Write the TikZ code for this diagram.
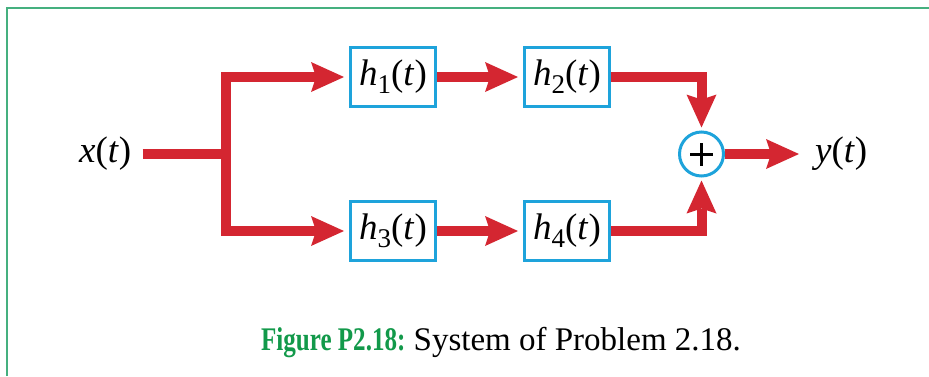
\documentclass[tikz,border=0pt]{standalone}
\usepackage{fontspec}
\setmainfont{Liberation Serif}
\usetikzlibrary{arrows.meta,positioning,calc}
\definecolor{sigred}{HTML}{D42631}
\definecolor{blkblue}{HTML}{1EA3DB}
\definecolor{framegreen}{HTML}{45B07F}
\definecolor{capgreen}{HTML}{12994A}
\newcommand{\sig}[1]{\textit{#1}(\textit{t})}
\newcommand{\imp}[1]{\textit{h}\raisebox{-0.2em}{\fontsize{27}{30}\selectfont #1}(\textit{t})}

\begin{document}
\begin{tikzpicture}[x=1pt, y=-1pt, node distance=92pt and 86pt,
  blk/.style={draw=blkblue, line width=3pt, minimum width=85pt, minimum height=59pt, inner sep=0pt, font=\fontsize{37}{40}\selectfont},
  sumnd/.style={draw=blkblue, circle, line width=3pt, minimum size=44pt, inner sep=0pt,
    path picture={\draw[black, line width=3pt] (path picture bounding box.center) +(-11.5pt,0) -- +(11.5pt,0)
      (path picture bounding box.center) +(0,-11.5pt) -- +(0,11.5pt);}},
  lbl/.style={font=\fontsize{37}{40}\selectfont, inner sep=0pt},
  wire/.style={draw=sigred, line width=10pt},
  arr/.style={wire, -{Stealth[length=33pt, width=30pt, inset=5pt, line width=0pt]}, shorten >=5pt}]
  \useasboundingbox (0,0) rectangle (929,376);
  \draw[framegreen, line width=2pt] (7,376) |- (929,8);
  % blocks
  \node[blk] (h1) at (393,77) {\imp{1}};
  \node[blk, right=of h1] (h2) {\imp{2}};
  \node[blk, below=of h1] (h3) {\imp{3}};
  \node[blk, right=of h3] (h4) {\imp{4}};
  \coordinate (mid) at ($(h2.east)!.5!(h4.east)$);
  \node[sumnd, right=67pt of mid] (sum) {};
  \coordinate (split) at ($(h1.west)!.5!(h3.west)+(-123.5,0)$);
  \node[lbl, left=94pt of split] (xin) {\sig{x}};
  \node[lbl, right=90pt of sum] (yout) {\sig{y}};
  % connectors
  \draw[wire, shorten <=11pt] (xin) -- (split);
  \draw[arr] (split) |- (h1);
  \draw[arr] (split) |- (h3);
  \draw[arr] (h1) -- (h2);
  \draw[arr] (h3) -- (h4);
  \draw[arr, shorten >=3pt] (h2) -| (sum);
  \draw[arr, shorten >=3pt] (h4) -| (sum);
  \draw[arr, shorten >=16pt] (sum) -- (yout);
  \node[font=\fontsize{33}{36}\selectfont] (cap) at (501,343)
    {{\color{capgreen}\bfseries\scalebox{0.76}[1]{Figure P2.18:}} System of Problem 2.18.};
\end{tikzpicture}
\end{document}
